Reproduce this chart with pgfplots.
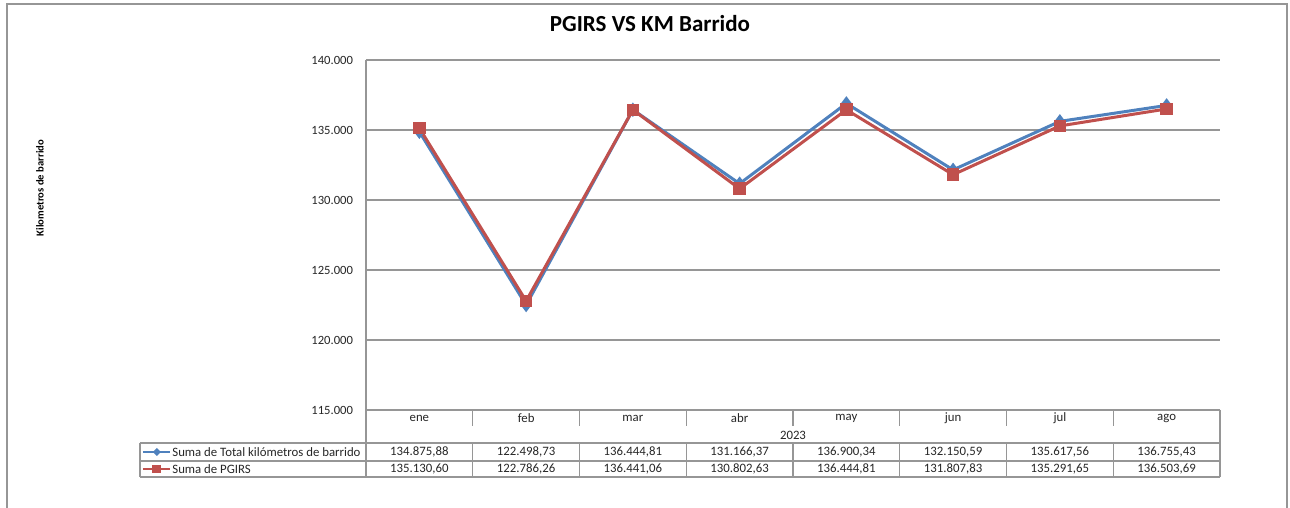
\documentclass[border=0pt]{standalone}
\usepackage{fontspec}
\setmainfont{Carlito}
\usepackage{pgfplots}
\pgfplotsset{compat=1.18}
\definecolor{serieA}{HTML}{4F81BD}
\definecolor{serieB}{HTML}{C0504D}
\definecolor{rejilla}{HTML}{969696}
\definecolor{texto}{HTML}{262626}

\begin{document}
\begin{tikzpicture}
\begin{axis}[
  scale only axis,
  width=427pt, height=175pt,
  xmin=-0.5, xmax=7.5,
  ymin=115000, ymax=140000,
  ytick={115000,120000,125000,130000,135000,140000},
  scaled y ticks=false,
  yticklabel style={/pgf/number format/fixed, /pgf/number format/precision=0,
    /pgf/number format/1000 sep={.}, /pgf/number format/assume math mode=true,
    font=\fontsize{6.3}{7}\selectfont, text=texto, xshift=-3pt},
  xtick=\empty,
  ymajorgrids,
  major grid style={rejilla, line width=0.6pt},
  axis line style={draw=none},
  major tick length=0pt,
  clip=false,
]
% Suma de Total kilometros de barrido
\addplot[serieA, line width=1.5pt, mark=diamond*, mark size=2.4pt] coordinates {
  (0,134875.88) (1,122498.73) (2,136444.81) (3,131166.37)
  (4,136900.34) (5,132150.59) (6,135617.56) (7,136755.43)
};
% Suma de PGIRS
\addplot[serieB, line width=1.5pt, mark=square*, mark size=2.4pt] coordinates {
  (0,135130.60) (1,122786.26) (2,136441.06) (3,130802.63)
  (4,136444.81) (5,131807.83) (6,135291.65) (7,136503.69)
};
\coordinate (SW) at (rel axis cs:0,0);
\end{axis}

% everything around the plot, in pixels of the reference
\begin{scope}[shift={(SW)}, xshift=-183pt, yshift=205pt, x=0.5pt, y=-0.5pt]
\path[use as bounding box] (0,0) rectangle (1290,508);
\draw[rejilla, line width=0.7pt] (7,508) -- (7,4) -- (1287,4) -- (1287,508);
\node[font=\fontsize{11.5}{13}\selectfont\bfseries] at (650,24) {PGIRS VS KM Barrido};
\node[rotate=90, font=\fontsize{5.3}{6}\selectfont\bfseries] at (40,188) {Kilometros de barrido};
% axis line and table
\draw[rejilla, line width=0.7pt] (366,60) -- (366,477);
\draw[rejilla, line width=0.6pt] (1220,410) -- (1220,477);
\draw[rejilla, line width=0.6pt] (140,443) -- (1220,443) (140,461) -- (1220,461) (140,477) -- (1220,477) (140,443) -- (140,477);
\foreach \k in {1,...,7} {
  \draw[rejilla, line width=0.6pt] ({366+106.75*\k},410) -- ({366+106.75*\k},426);
  \draw[rejilla, line width=0.6pt] ({366+106.75*\k},443) -- ({366+106.75*\k},477);
}
\begin{scope}[font=\fontsize{6.4}{7}\selectfont, text=texto]
\foreach \m [count=\i from 0] in {ene,feb,mar,abr,may,jun,jul,ago}
  \node at ({366+106.75*(\i+0.5)},418) {\m};
\node at (793,435) {2023};
\foreach \v [count=\i from 0] in {134875.88,122498.73,136444.81,131166.37,136900.34,132150.59,135617.56,136755.43}
  \node at ({366+106.75*(\i+0.5)},452) {\pgfmathprintnumber[fixed, fixed zerofill, precision=2, 1000 sep={.}, use comma, assume math mode=true]{\v}};
\foreach \v [count=\i from 0] in {135130.60,122786.26,136441.06,130802.63,136444.81,131807.83,135291.65,136503.69}
  \node at ({366+106.75*(\i+0.5)},469) {\pgfmathprintnumber[fixed, fixed zerofill, precision=2, 1000 sep={.}, use comma, assume math mode=true]{\v}};
\node[anchor=west, inner sep=0pt] at (172,452) {Suma de Total kilómetros de barrido};
\node[anchor=west, inner sep=0pt] at (172,469) {Suma de PGIRS};
\end{scope}
% legend keys
\draw[serieA, line width=1pt] (143,452) -- (170,452);
\fill[serieA] (157,448) -- (161,452) -- (157,456) -- (153,452) -- cycle;
\draw[serieB, line width=1pt] (143,469) -- (170,469);
\fill[serieB] (152,465) rectangle (161,473);
\end{scope}
\end{tikzpicture}
\end{document}
